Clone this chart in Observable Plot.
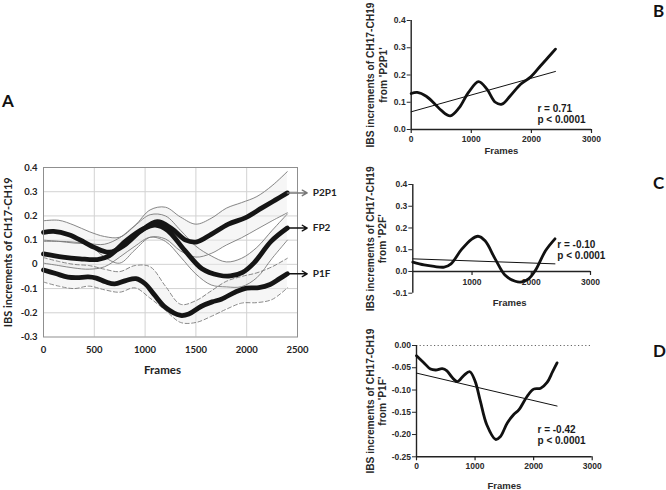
<!DOCTYPE html>
<html>
<head>
<meta charset="utf-8">
<script src="https://cdn.jsdelivr.net/npm/d3@7"></script>
<script src="https://cdn.jsdelivr.net/npm/@observablehq/plot@0.6"></script>
<style>
  html, body { margin: 0; padding: 0; background: #fff; }
  #wrap { position: relative; width: 666px; height: 490px; overflow: hidden; background: #fff; }
  .letter { position: absolute; font: bold 17px Lato, "Open Sans", sans-serif; line-height: 17px; color: #111; }
</style>
</head>
<body>
<div id="wrap"></div>
<script>
// ---------- DATA ----------
const seriesNames = ["P2P1", "FP2", "P1F"];

// mean curves (also panels B, C, D)
const p2p1Frames = [0,100,250,400,500,650,800,950,1120,1260,1400,1510,1650,1820,1990,2150,2280,2400];
const p2p1Mean   = [0.132,0.136,0.122,0.092,0.07,0.05,0.08,0.135,0.176,0.148,0.1,0.093,0.124,0.166,0.193,0.233,0.265,0.295];

const fp2Frames = [0,190,360,530,645,820,990,1100,1220,1390,1560,1730,1840,1960,2070,2240,2400];
const fp2Mean   = [0.043,0.03,0.023,0.02,0.035,0.1,0.148,0.162,0.141,0.058,-0.018,-0.045,-0.048,-0.033,0.005,0.095,0.15];

const p1fFrames = [0,120,240,330,440,520,610,700,810,910,1000,1090,1200,1350,1430,1550,1660,1750,1890,2000,2120,2230,2320,2400];
const p1fMean   = [-0.023,-0.038,-0.053,-0.055,-0.052,-0.057,-0.072,-0.081,-0.067,-0.059,-0.08,-0.125,-0.178,-0.211,-0.205,-0.174,-0.155,-0.144,-0.114,-0.098,-0.096,-0.083,-0.06,-0.039];

// confidence bands (panel A)
const bandFrames = [0,150,300,450,600,750,900,1050,1200,1350,1500,1650,1800,1950,2100,2250,2400];
const p2p1Upper = [0.18,0.182,0.162,0.135,0.115,0.112,0.16,0.225,0.236,0.195,0.166,0.19,0.232,0.255,0.28,0.325,0.383];
const p2p1Lower = [0.095,0.095,0.092,0.08,0.03,0.005,0.06,0.112,0.105,0.055,0.03,0.045,0.08,0.11,0.145,0.18,0.213];
const fp2Upper  = [0.1,0.095,0.088,0.085,0.083,0.11,0.16,0.205,0.2,0.14,0.075,0.035,0.01,0.025,0.07,0.14,0.208];
const fp2Lower  = [0.005,-0.005,-0.015,-0.02,-0.01,0.03,0.075,0.112,0.095,0.03,-0.04,-0.085,-0.093,-0.092,-0.055,0.025,0.1];
const p1fUpper  = [0.028,0.012,0.0,-0.005,-0.02,-0.03,-0.005,-0.01,-0.09,-0.165,-0.15,-0.11,-0.07,-0.05,-0.035,-0.01,0.025];
const p1fLower  = [-0.073,-0.09,-0.1,-0.09,-0.105,-0.115,-0.097,-0.14,-0.19,-0.24,-0.24,-0.215,-0.185,-0.16,-0.158,-0.145,-0.097];

// regression lines (panels B, C, D)
const regFrames = [0, 2400];
const regB = [0.065, 0.213];
const regC = [0.058, 0.035];
const regD = [-0.062, -0.136];

const statsB = ["r = 0.71", "p < 0.0001"];
const statsC = ["r = -0.10", "p < 0.0001"];
const statsD = ["r = -0.42", "p < 0.0001"];

// ticks and labels
const xTicksA = [0,500,1000,1500,2000,2500];
const yTicksA = [-0.3,-0.2,-0.1,0,0.1,0.2,0.3,0.4];
const yLabelsA = ["-0.3","-0.2","-0.1","0","0.1","0.2","0.3","0.4"];
const xTicksBD = [0,1000,2000,3000];
const xTicksC = [1000,2000,3000];
const yTicksB = [0,0.1,0.2,0.3,0.4];
const yLabelsB = ["0.0","0.1","0.2","0.3","0.4"];
const yTicksC = [-0.1,0,0.1,0.2,0.3,0.4];
const yLabelsC = ["-0.1","0.0","0.1","0.2","0.3","0.4"];
const yTicksD = [-0.25,-0.2,-0.15,-0.1,-0.05,0];
const yLabelsD = ["-0.25","-0.20","-0.15","-0.10","-0.05","0.00"];

const titleA = "IBS increments of CH17-CH19";
const titleB = "IBS increments of CH17-CH19\nfrom 'P2P1'";
const titleC = "IBS increments of CH17-CH19\nfrom 'P2F'";
const titleD = "IBS increments of CH17-CH19\nfrom 'P1F'";
const xTitle = "Frames";

// ---------- HELPERS ----------
const wrap = document.getElementById("wrap");
const rows = (fr, vals) => fr.map((x, i) => ({x, y: vals[i]}));
const band = (up, lo) => bandFrames.map((x, i) => ({x, up: up[i], lo: lo[i]}));
const lab = (ticks, labels) => d => labels[ticks.indexOf(d)];
function place(svg, left, top) {
  svg.style.position = "absolute";
  svg.style.left = left + "px";
  svg.style.top = top + "px";
  wrap.appendChild(svg);
}
function letter(t, left, top) {
  const d = document.createElement("div");
  d.className = "letter"; d.textContent = t;
  d.style.left = left + "px"; d.style.top = top + "px";
  wrap.appendChild(d);
}

// ---------- PANEL A ----------
const series = [
  {name: seriesNames[0], frames: p2p1Frames, mean: p2p1Mean, up: p2p1Upper, lo: p2p1Lower, dash: null, arrow: "#777"},
  {name: seriesNames[1], frames: fp2Frames, mean: fp2Mean, up: fp2Upper, lo: fp2Lower, dash: null, arrow: "#111"},
  {name: seriesNames[2], frames: p1fFrames, mean: p1fMean, up: p1fUpper, lo: p1fLower, dash: "4,2.5", arrow: "#111"}
];
const curve = "catmull-rom";

const plotA = Plot.plot({
  width: 340, height: 240,
  marginLeft: 43, marginRight: 43, marginTop: 27, marginBottom: 43.5,
  x: {domain: [0, 2500], axis: null},
  y: {domain: [-0.3, 0.4], axis: null},
  style: {fontFamily: "Lato, 'Open Sans', sans-serif", fontSize: "9.5px", fontWeight: "bold", color: "#222", background: "transparent", overflow: "visible"},
  marks: [
    Plot.gridX({ticks: xTicksA.slice(1, -1), stroke: "#d2d2d2", strokeOpacity: 1}),
    Plot.gridY({ticks: yTicksA.slice(1, -1), stroke: "#d2d2d2", strokeOpacity: 1}),
    ...series.map(s => Plot.areaY(band(s.up, s.lo), {x: "x", y1: "lo", y2: "up", fill: "#ececec", fillOpacity: 0.45, curve})),
    ...series.flatMap(s => [
      Plot.line(band(s.up, s.lo), {x: "x", y: "up", stroke: "#7a7a7a", strokeWidth: 0.9, strokeDasharray: s.dash, curve}),
      Plot.line(band(s.up, s.lo), {x: "x", y: "lo", stroke: "#7a7a7a", strokeWidth: 0.9, strokeDasharray: s.dash, curve})
    ]),
    ...series.map(s => Plot.line(rows(s.frames, s.mean), {x: "x", y: "y", stroke: "#151515", strokeWidth: 4.8, curve})),
    Plot.frame({stroke: "#8f8f8f"}),
    Plot.axisX({ticks: xTicksA, tickFormat: d => String(d), tickSize: 0, tickPadding: 9, label: null}),
    Plot.axisY({ticks: yTicksA, tickFormat: lab(yTicksA, yLabelsA), tickSize: 0, tickPadding: 6, label: null}),
    ...series.map(s => Plot.arrow([s], {
      x1: d => d.frames[d.frames.length - 1], x2: 2595,
      y: d => d.mean[d.mean.length - 1],
      stroke: s.arrow, strokeWidth: 1.4, headLength: 6
    })),
    Plot.text(series, {x: 2650, y: d => d.mean[d.mean.length - 1], text: "name", textAnchor: "start", fontSize: 10, fill: "#222"}),
    Plot.text([xTitle], {frameAnchor: "bottom", lineAnchor: "middle", dy: 33.5, dx: -8, fontSize: 11.5}),
    Plot.text([titleA], {frameAnchor: "left", textAnchor: "middle", lineAnchor: "middle", rotate: -90, dx: -35, fontSize: 11})
  ]
});
place(plotA, 0, 140);

// ---------- PANELS B, C, D ----------
function small(cfg) {
  const svg = Plot.plot({
    width: 306, height: cfg.height,
    marginLeft: cfg.ml, marginRight: cfg.mr, marginTop: 12, marginBottom: cfg.mb,
    x: {domain: [0, 3000], axis: null},
    y: {domain: cfg.yDomain, axis: null},
    style: {fontFamily: "'Liberation Sans', Arial, sans-serif", fontSize: "8.5px", fontWeight: "bold", color: "#2a2a2a", background: "transparent", overflow: "visible"},
    marks: [
      cfg.dotted ? Plot.ruleY([0], {stroke: "#666", strokeDasharray: "1.2,2.4", strokeWidth: 1}) : null,
      Plot.ruleX([0], {stroke: "#222", strokeWidth: 1.4}),
      Plot.ruleY([cfg.xAxisAt], {stroke: "#222", strokeWidth: 1.4}),
      Plot.axisY({ticks: cfg.yTicks, tickFormat: lab(cfg.yTicks, cfg.yLabels), tickSize: 4, tickPadding: 1.5, label: null}),
      Plot.ruleX(cfg.xTicks, {x: d => d, y1: cfg.xAxisAt, y2: cfg.xAxisAt, insetBottom: -4, stroke: "#222", strokeWidth: 1.2}),
      Plot.text(cfg.xTicks, {x: d => d, y: cfg.xAxisAt, text: d => String(d), dy: cfg.xLabelDy}),
      Plot.line(rows(regFrames, cfg.reg), {x: "x", y: "y", stroke: "#111", strokeWidth: 1}),
      Plot.line(rows(cfg.frames, cfg.mean), {x: "x", y: "y", stroke: "#111", strokeWidth: 2.8, curve}),
      Plot.text(cfg.stats, {x: cfg.annX, y: (d, i) => cfg.annY[i], text: d => d, textAnchor: "start", fontSize: 10, ariaLabel: "ann", fill: "#1a1a1a"}),
      Plot.text([xTitle], {frameAnchor: "bottom", lineAnchor: "middle", dy: cfg.framesDy, dx: cfg.framesDx || 0, fontSize: 9.5}),
      Plot.text([cfg.title], {frameAnchor: "left", textAnchor: "middle", lineAnchor: "middle", rotate: -90, dx: cfg.titleDx, fontSize: 10.2, lineHeight: 1.25})
    ]
  });
  d3.select(svg).selectAll('g[aria-label="ann"] text').each(function() {
    const t = this.textContent;
    const sel = d3.select(this);
    sel.text(null);
    sel.append("tspan").attr("font-style", "italic").text(t.slice(0, 1));
    sel.append("tspan").text(t.slice(1));
  });
  return svg;
}

place(small({
  height: 150, ml: 50.7, mr: 75, mb: 29,
  yDomain: [0, 0.4], yTicks: yTicksB, yLabels: yLabelsB,
  xTicks: xTicksBD, xAxisAt: 0, xLabelDy: 9.3,
  frames: p2p1Frames, mean: p2p1Mean, reg: regB,
  stats: statsB, annX: 2100, annY: [0.077, 0.037],
  framesDy: 21.7, title: titleB, titleDx: -35
}), 360, 8);

place(small({
  height: 140, ml: 52.3, mr: 76, mb: 19.3,
  yDomain: [-0.1, 0.4], yTicks: yTicksC, yLabels: yLabelsC,
  xTicks: xTicksC, xAxisAt: 0, xLabelDy: 11,
  frames: fp2Frames, mean: fp2Mean, reg: regC,
  stats: statsC, annX: 2440, annY: [0.124, 0.074],
  framesDy: 10, framesDx: 8, title: titleC, titleDx: -37
}), 360, 172);

place(small({
  height: 157, ml: 56, mr: 74.3, mb: 33.7, dotted: true,
  yDomain: [-0.25, 0], yTicks: yTicksD, yLabels: yLabelsD,
  xTicks: xTicksBD, xAxisAt: -0.25, xLabelDy: 9.7,
  frames: p1fFrames, mean: p1fMean, reg: regD,
  stats: statsD, annX: 2066, annY: [-0.189, -0.213],
  framesDy: 29.4, title: titleD, titleDx: -40.5
}), 360, 333);

letter("A", 2, 91.5);
letter("B", 653, 1.5);
letter("C", 653, 173.5);
letter("D", 653, 341.5);
</script>
</body>
</html>
